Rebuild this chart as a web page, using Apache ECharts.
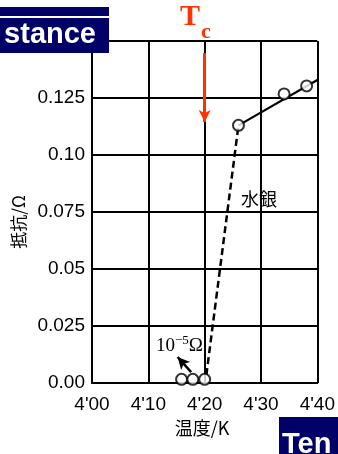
<!DOCTYPE html>
<html>
<head>
    <meta charset="utf-8">
    <script src="https://cdn.jsdelivr.net/npm/echarts@6/dist/echarts.min.js"></script>
    <style>
        html, body { margin: 0; padding: 0; background: #fff; }
    </style>
</head>
<body>
    <div id="main" style="width: 338px;height:454px;"></div>
    <script type="text/javascript">
        // 刻度
        var xTicks = ["4'00", "4'10", "4'20", "4'30", "4'40"];
        var yTicks = ['0.00', '0.025', '0.05', '0.075', '0.10', '0.125', '0.15'];

        // 常伝導 (测量点)
        var normalT = [4.26, 4.341, 4.381];
        var normalR = [0.113, 0.1268, 0.1303];
        // 常伝導の直線
        var trendT = [4.26, 4.40];
        var trendR = [0.113, 0.1329];
        // 超伝導 (10^-5 Ω)
        var superT = [4.159, 4.179, 4.200];
        var superR = [0.0016, 0.0016, 0.0016];
        // 急降下 (破線)
        var dropT = [4.203, 4.26];
        var dropR = [0.0035, 0.113];
        // Tc 矢印
        var tcT = 4.20;
        var tcArrowR = [0.1447, 0.1145];
        // 10^-5 Ω 矢印
        var noteArrowT = [4.176, 4.152];
        var noteArrowR = [0.0048, 0.0114];

        function pairs(xs, ys) {
            var out = [];
            for (var i = 0; i < xs.length; i++) {
                out.push([xs[i], ys[i]]);
            }
            return out;
        }

        var navy = '#000066';
        var red = '#ff3300';

        option = {
            animation: false,
            grid: {
                left: 92,
                right: 15,
                top: 41,
                bottom: 71
            },
            xAxis: {
                type: 'value',
                min: 4.0,
                max: 4.4,
                interval: 0.1,
                axisLine: {lineStyle: {color: '#000', width: 2}},
                axisTick: {show: false},
                splitLine: {show: true, lineStyle: {color: '#000', width: 2}},
                axisLabel: {
                    color: '#000',
                    fontSize: 19,
                    fontFamily: 'Liberation Sans, Arial, sans-serif',
                    margin: 12,
                    formatter: function (v) {
                        return xTicks[Math.round((v - 4.0) * 10)];
                    }
                }
            },
            yAxis: {
                type: 'value',
                min: 0,
                max: 0.15,
                interval: 0.025,
                axisLine: {show: true, lineStyle: {color: '#000', width: 2}},
                axisTick: {show: false},
                splitLine: {show: true, lineStyle: {color: '#000', width: 2}},
                axisLabel: {
                    color: '#000',
                    fontSize: 19,
                    fontFamily: 'Liberation Sans, Arial, sans-serif',
                    margin: 7,
                    formatter: function (v) {
                        return yTicks[Math.round(v / 0.025)];
                    }
                }
            },
            series: [
                {
                    name: 'trend',
                    type: 'line',
                    symbol: 'none',
                    lineStyle: {color: '#000', width: 2.2},
                    data: pairs(trendT, trendR),
                    markLine: {
                        silent: true,
                        symbol: ['none', 'arrow'],
                        symbolSize: [9, 12],
                        label: {show: false},
                        data: [
                            [
                                {coord: [tcT, tcArrowR[0]], lineStyle: {color: red, width: 3, type: 'solid'}},
                                {coord: [tcT, tcArrowR[1]]}
                            ],
                            [
                                {coord: [noteArrowT[0], noteArrowR[0]], lineStyle: {color: '#000', width: 2.5, type: 'solid'}},
                                {coord: [noteArrowT[1], noteArrowR[1]]}
                            ]
                        ]
                    }
                },
                {
                    name: 'drop',
                    type: 'line',
                    symbol: 'none',
                    lineStyle: {color: '#000', width: 2.5, type: [7, 4]},
                    data: pairs(dropT, dropR)
                },
                {
                    name: 'normal',
                    type: 'scatter',
                    symbol: 'circle',
                    symbolSize: 11,
                    itemStyle: {color: '#fff', borderColor: '#000', borderWidth: 2},
                    data: pairs(normalT, normalR),
                    z: 5
                },
                {
                    name: 'super',
                    type: 'scatter',
                    symbol: 'circle',
                    symbolSize: 11,
                    itemStyle: {color: '#fff', borderColor: '#000', borderWidth: 2},
                    data: pairs(superT, superR),
                    z: 5
                }
            ],
            graphic: [
                // 左上の見出し
                {type: 'rect', left: 0, top: 7, shape: {width: 109, height: 9}, style: {fill: navy}, z: 100},
                {type: 'rect', left: 0, top: 18, shape: {width: 109, height: 35}, style: {fill: navy}, z: 100},
                {
                    type: 'text', x: 96, y: 49, z: 101,
                    style: {
                        text: 'stance', fill: '#fff', align: 'right', verticalAlign: 'bottom',
                        font: 'bold 29px "Liberation Sans", Arial, sans-serif'
                    }
                },
                // 右下の見出し
                {type: 'rect', left: 279, top: 417, shape: {width: 59, height: 37}, style: {fill: navy}, z: 100},
                {
                    type: 'text', x: 282, y: 430, z: 101,
                    style: {
                        text: 'Ten', fill: '#fff', align: 'left', verticalAlign: 'top',
                        font: 'bold 29px "Liberation Sans", Arial, sans-serif'
                    }
                },
                // Tc
                {
                    type: 'text', x: 190, y: 17, z: 101,
                    style: {
                        text: 'T', fill: red, align: 'center', verticalAlign: 'middle',
                        font: 'bold 30px "Liberation Serif", "Times New Roman", serif'
                    }
                },
                {
                    type: 'text', x: 206, y: 32, z: 101,
                    style: {
                        text: 'c', fill: red, align: 'center', verticalAlign: 'middle',
                        font: 'bold 22px "Liberation Serif", "Times New Roman", serif'
                    }
                },
                // 水銀
                {
                    type: 'text', x: 259, y: 199, z: 101,
                    style: {
                        text: '水銀', fill: '#000', align: 'center', verticalAlign: 'middle',
                        font: '18px "Noto Sans CJK JP", sans-serif'
                    }
                },
                // 10^-5 Ω
                {
                    type: 'text', x: 156, y: 345, z: 101,
                    style: {
                        text: '{a|10}{b|−5}{a|Ω}',
                        align: 'left', verticalAlign: 'middle',
                        rich: {
                            a: {fontSize: 19, fontFamily: '"Liberation Serif", serif', fill: '#000', color: '#000', verticalAlign: 'bottom'},
                            b: {fontSize: 13, fontFamily: '"Liberation Serif", serif', fill: '#000', color: '#000', verticalAlign: 'top', padding: [0, 0, 9, 0]}
                        }
                    }
                },
                // 軸名
                {
                    type: 'text', x: 19, y: 222, rotation: Math.PI / 2, z: 101,
                    style: {
                        text: '抵抗/Ω', fill: '#000', align: 'center', verticalAlign: 'middle',
                        font: '17px "Noto Sans CJK JP", sans-serif'
                    }
                },
                {
                    type: 'text', x: 202, y: 428, z: 101,
                    style: {
                        text: '温度/K', fill: '#000', align: 'center', verticalAlign: 'middle',
                        font: '18px "Noto Sans CJK JP", sans-serif'
                    }
                }
            ]
        };

        var myChart = echarts.init(document.getElementById('main'));
        myChart.setOption(option);
    </script>
</body>
</html>
